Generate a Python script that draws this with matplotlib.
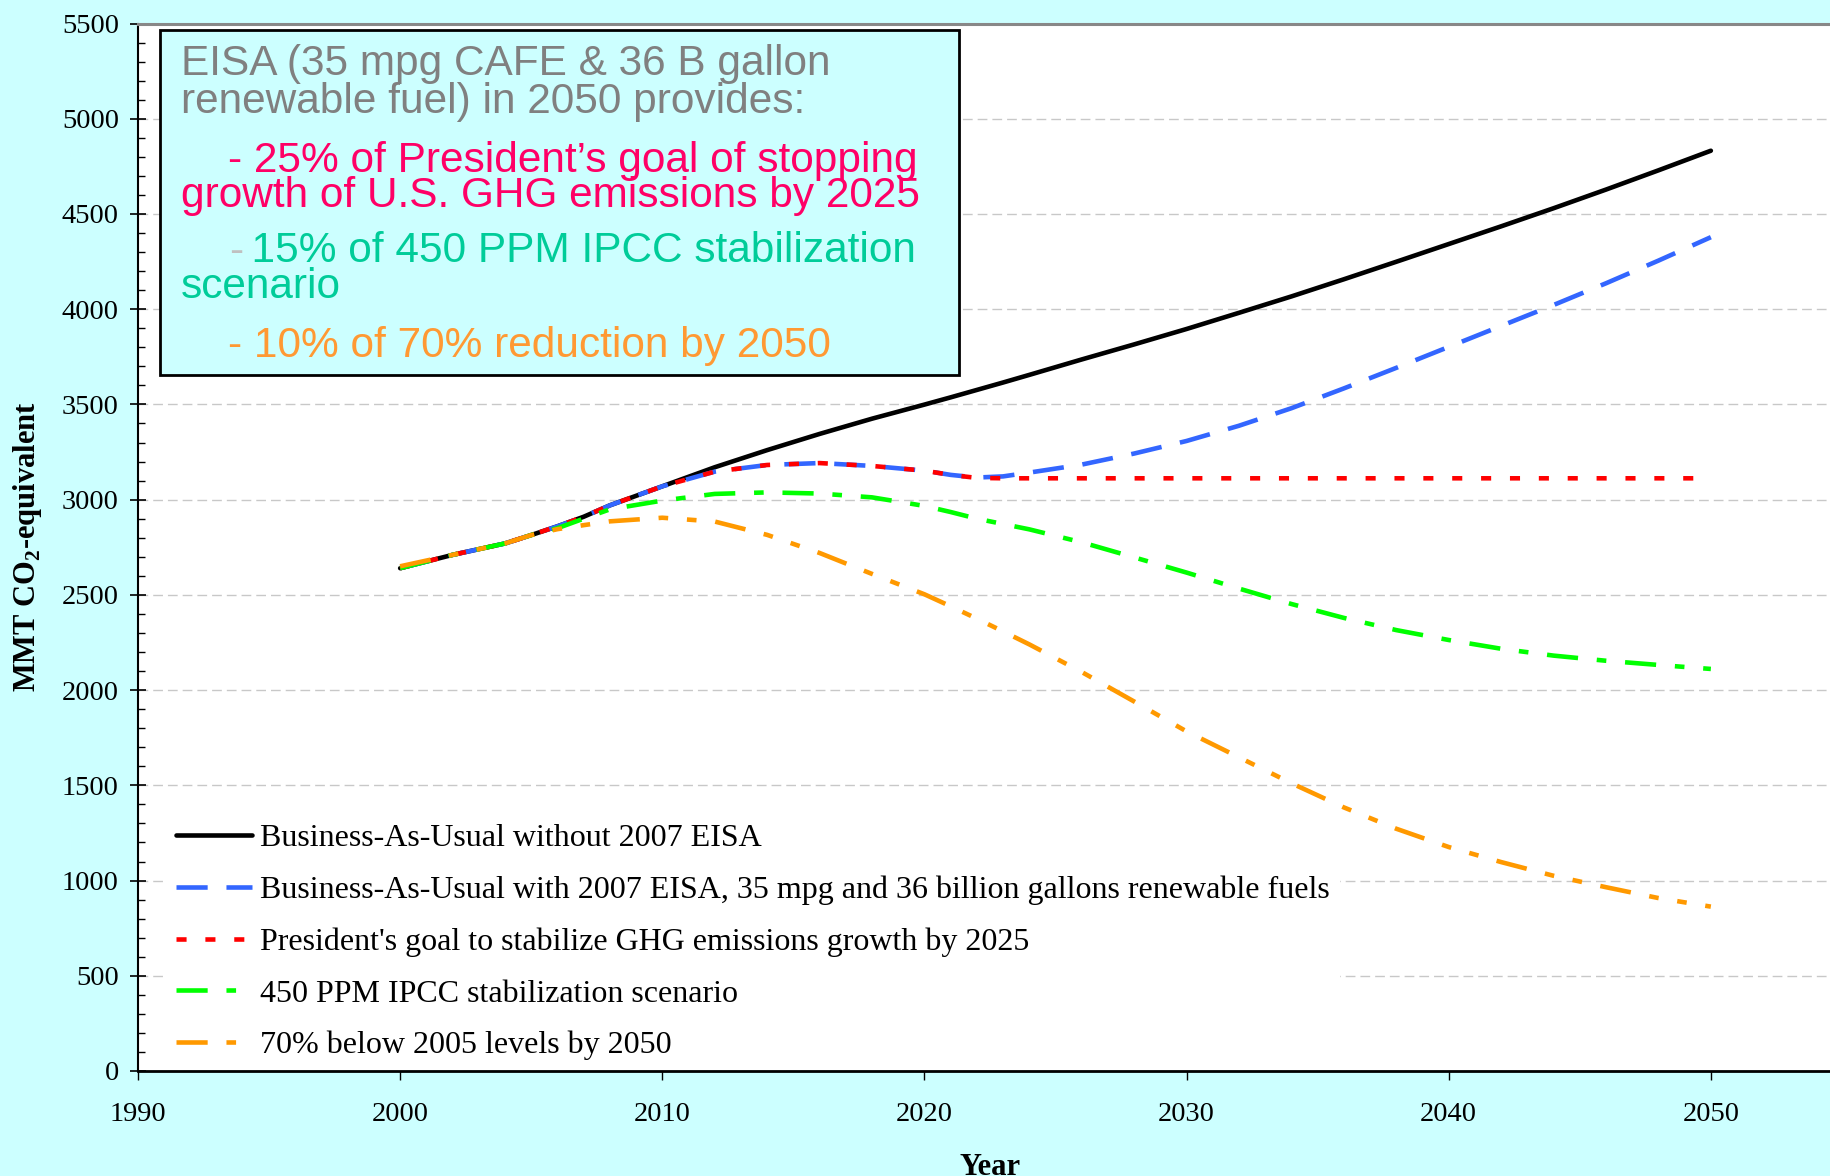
import matplotlib.pyplot as plt
from matplotlib.patches import Rectangle
from matplotlib.ticker import MultipleLocator

plt.rcParams["font.family"] = ["Liberation Serif", "DejaVu Serif"]
plt.rcParams["mathtext.fontset"] = "custom"
plt.rcParams["mathtext.rm"] = "Liberation Serif"
plt.rcParams["mathtext.bf"] = "Liberation Serif:bold"

# data (MMT CO2-equivalent)
years = [2000, 2002, 2004, 2005, 2006, 2007, 2008, 2010, 2012, 2014, 2016, 2018, 2020, 2021,
         2022, 2023, 2024, 2026, 2028, 2030, 2032, 2034, 2036, 2038, 2040, 2042, 2044, 2046,
         2048, 2050]
bau = [2640, 2710, 2770, 2814, 2860, 2910, 2970, 3070, 3170, 3260, 3345, 3425, 3499, 3537,
       3576, 3615, 3655, 3736, 3815, 3896, 3981, 4067, 4157, 4249, 4342, 4435, 4530, 4628,
       4729, 4832]
bau_eisa = [2640, 2710, 2770, 2814, 2860, 2910, 2970, 3070, 3147, 3182, 3192, 3177, 3152, 3130,
            3116, 3122, 3142, 3184, 3242, 3308, 3388, 3480, 3584, 3692, 3802, 3912, 4022, 4136,
            4255, 4378]
president = [2640, 2710, 2770, 2814, 2860, 2910, 2970, 3070, 3147, 3182, 3192, 3177, 3152, 3130,
             3114, 3112, 3112, 3112, 3112, 3112, 3112, 3112, 3112, 3112, 3112, 3112, 3112, 3112,
             3112, 3112]
ipcc_450 = [2640, 2710, 2770, 2814, 2850, 2900, 2949, 2995, 3030, 3038, 3032, 3012, 2967, 2935,
            2900, 2872, 2844, 2776, 2697, 2617, 2533, 2452, 2379, 2315, 2263, 2217, 2181, 2154,
            2132, 2111]
below_70 = [2650, 2710, 2770, 2814, 2845, 2866, 2886, 2905, 2885, 2815, 2720, 2610, 2503, 2440,
            2375, 2308, 2240, 2095, 1940, 1783, 1647, 1511, 1384, 1272, 1176, 1097, 1025, 965,
            908, 863]

labels = ["Business-As-Usual without 2007 EISA",
          "Business-As-Usual with 2007 EISA, 35 mpg and 36 billion gallons renewable fuels",
          "President's goal to stabilize GHG emissions growth by 2025",
          "450 PPM IPCC stabilization scenario",
          "70% below 2005 levels by 2050"]

W, H = 1830, 1176
BG = "#CCFFFF"

def fx(px):
    return px / W

def fy(py):
    return 1 - py / H

fig = plt.figure(figsize=(W / 100, H / 100), dpi=100, facecolor=BG)
ax = fig.add_axes([fx(138), fy(1071), 1835 / W, (1071 - 23.5) / H])

lw = 3.3
ax.plot(years, bau, color="black", lw=lw, solid_capstyle="round", solid_joinstyle="round",
        label=labels[0], zorder=3)
ax.plot(years, bau_eisa, color="#3366FF", lw=lw, dashes=(6.8, 4.1), label=labels[1], zorder=4)
ax.plot(years, president, color="#FF0000", lw=lw, dashes=(2.2, 4.1), label=labels[2], zorder=5)
ax.plot(years, ipcc_450, color="#00FF00", lw=lw, dashes=(6.8, 4.1, 2.1, 4.1), label=labels[3], zorder=6)
ax.plot(years, below_70, color="#FF9900", lw=lw, dashes=(6.8, 4.1, 2.1, 4.1, 2.1, 4.1),
        label=labels[4], zorder=7)

ax.set_xlim(1990, 2060)
ax.set_ylim(0, 5500)
ax.set_xticks(range(1990, 2051, 10))
ax.set_yticks(range(0, 5501, 500))
ax.yaxis.set_minor_locator(MultipleLocator(100))
ax.tick_params(axis="y", which="major", direction="inout", length=11.5, width=1.2, pad=8.0, labelsize=20.5)
ax.tick_params(axis="y", which="minor", direction="in", length=5, width=1)
ax.tick_params(axis="x", which="major", direction="out", length=6.5, width=1, pad=16, labelsize=20.5)

ax.set_axisbelow(True)
ax.grid(axis="y", color="#C8C8C8", lw=1, linestyle=(0, (7, 3.6)))

ax.spines["top"].set_color("#888888")
ax.spines["top"].set_linewidth(2.2)
ax.spines["right"].set_visible(False)
ax.spines["left"].set_linewidth(1.5)
ax.spines["bottom"].set_linewidth(2)
for s in ax.spines.values():
    s.set_zorder(10)

# text box (multi-line texts are placed by the baseline of their last line)
ax.add_patch(Rectangle((fx(160), fy(375)), (959 - 160) / W, (375 - 30) / H, transform=fig.transFigure,
                       facecolor=BG, edgecolor="black", lw=2, zorder=8, clip_on=False))
sans = ["Liberation Sans", "DejaVu Sans"]
box_fs = 30.5
box_lines = [
    (181, 113, "EISA (35 mpg CAFE & 36 B gallon\nrenewable fuel) in 2050 provides:", "#808080", 0.93),
    (181, 207, "    - 25% of President\u2019s goal of stopping\ngrowth of U.S. GHG emissions by 2025",
     "#FF0066", 0.83),
    (229, 263, "-", "#C0C0C0", 1.0),
    (181, 298, "      15% of 450 PPM IPCC stabilization\nscenario", "#00CC99", 0.86),
    (181, 357, "    - 10% of 70% reduction by 2050", "#FF9933", 1.0),
]
for x, y, s, c, ls in box_lines:
    fig.text(fx(x), fy(y), s, fontsize=box_fs, color=c, family=sans, va="baseline",
             linespacing=ls, zorder=9)

ax.legend(loc="lower left", bbox_to_anchor=(fx(166), fy(1070)), bbox_transform=fig.transFigure,
          borderaxespad=0, fontsize=23, handlelength=2.4, handletextpad=0.25, labelspacing=0.70,
          borderpad=0.3, frameon=True, fancybox=False, facecolor="white", edgecolor="none", framealpha=1)

fig.text(fx(28), fy(547), r"MMT CO$_\mathbf{2}$-equivalent", rotation=90, ha="center", va="center",
         fontsize=22, fontweight="bold")
fig.text(fx(990), fy(1175), "Year", ha="center", va="baseline", fontsize=22, fontweight="bold")

fig.savefig("out.png", dpi=100, facecolor=fig.get_facecolor())
